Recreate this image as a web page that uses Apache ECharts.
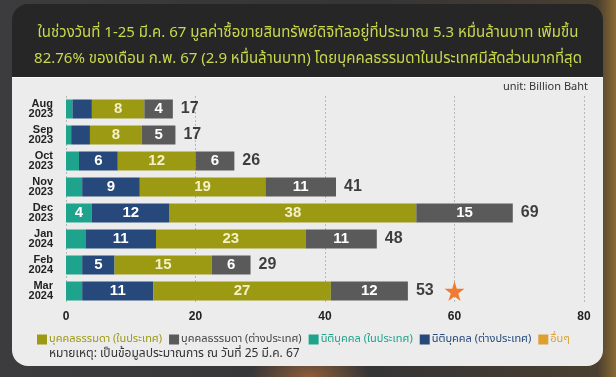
<!DOCTYPE html>
<html>
<head>
<meta charset="UTF-8">
<title>digital asset trading</title>
<script src="https://cdn.jsdelivr.net/npm/echarts@6/dist/echarts.min.js"></script>
<style>
  body { margin: 0; }
  .wrap {
    width: 616px; height: 377px; position: relative; overflow: hidden;
    background:
      radial-gradient(ellipse 60px 30px at 310px 377px, rgba(200,120,60,0.6), rgba(0,0,0,0)),
      linear-gradient(90deg, #3c3c3e 0%, #353436 60%, #4a3f30 97%, #8a6a34 100%);
  }
  .top {
    position: absolute; left: 12px; top: 4px; width: 591px; height: 90px;
    background: #262626; border-radius: 16px 16px 0 0;
  }
  .panel {
    position: absolute; left: 12px; top: 77px; width: 591px; height: 288px;
    background: #ececec; border-radius: 0 0 16px 16px; border-top: 1px solid #fafafa;
  }
  #main { position: absolute; left: 0; top: 0; width: 616px; height: 377px; }
</style>
</head>
<body>
<div class="wrap">
  <div class="top"></div>
  <div class="panel"></div>
  <div id="main"></div>
</div>
<script type="text/javascript">
var months = ['Aug\n2023', 'Sep\n2023', 'Oct\n2023', 'Nov\n2023', 'Dec\n2023', 'Jan\n2024', 'Feb\n2024', 'Mar\n2024'];
// นิติบุคคล (ในประเทศ)
var jurDomestic = [1.0, 0.8, 2.0, 2.5, 4.0, 3.0, 2.5, 2.5];
// นิติบุคคล (ต่างประเทศ)
var jurForeign = [3.0, 2.9, 6.0, 8.9, 12.0, 10.9, 5.0, 11.0];
// บุคคลธรรมดา (ในประเทศ)
var indDomestic = [8.1, 8.0, 12.0, 19.4, 38.1, 23.1, 15.0, 27.4];
// บุคคลธรรมดา (ต่างประเทศ)
var indForeign = [4.4, 5.2, 6.0, 10.9, 14.9, 11.0, 6.0, 11.9];
// อื่นๆ
var others = [0, 0, 0, 0, 0, 0, 0, 0];
var totals = [17, 17, 26, 41, 69, 48, 29, 53];
var starPoint = [60, 'Mar\n2024'];

var names = ['บุคคลธรรมดา (ในประเทศ)', 'บุคคลธรรมดา (ต่างประเทศ)', 'นิติบุคคล (ในประเทศ)', 'นิติบุคคล (ต่างประเทศ)', 'อื่นๆ'];
var colors = ['#9c9a12', '#5a5a5a', '#1ea48c', '#26487a', '#dca030'];
var textColors = ['#9c9a12', '#444', '#1ea48c', '#26487a', '#dca030'];
var thai = '"Noto Sans Thai", "Noto Sans", "DejaVu Sans", sans-serif';
var arial = 'Liberation Sans, Arial, sans-serif';

var ends = months.map(function (m, i) {
  return [jurDomestic[i] + jurForeign[i] + indDomestic[i] + indForeign[i] + others[i], m];
});

function seg(name, data, color, labelColor) {
  return {
    name: name, type: 'bar', stack: 'all', data: data, barWidth: 19,
    itemStyle: { color: color },
    label: {
      show: true, color: labelColor || '#fff', fontSize: 15, fontWeight: 'bold', fontFamily: arial,
      formatter: function (p) { return p.value >= 3.5 ? Math.round(p.value) : ''; }
    }
  };
}

var myChart = echarts.init(document.getElementById('main'));
var option = {
  animation: false,
  title: {
    text: 'ในช่วงวันที่ 1-25 มี.ค. 67 มูลค่าซื้อขายสินทรัพย์ดิจิทัลอยู่ที่ประมาณ 5.3 หมื่นล้านบาท เพิ่มขึ้น\n82.76% ของเดือน ก.พ. 67 (2.9 หมื่นล้านบาท) โดยบุคคลธรรมดาในประเทศมีสัดส่วนมากที่สุด',
    left: 'center', top: 16,
    textStyle: { color: '#c9d94e', fontSize: 15, fontWeight: 'normal', lineHeight: 26, fontFamily: thai, align: 'center' }
  },
  graphic: [
    { type: 'text', right: 28, top: 81, style: { text: 'unit: Billion Baht', fill: '#333', fontSize: 11, fontFamily: 'Noto Sans, sans-serif' } },
    { type: 'text', left: 49, top: 349, style: { text: 'หมายเหตุ: เป็นข้อมูลประมาณการ ณ วันที่ 25 มี.ค. 67', fill: '#333', fontSize: 12, fontFamily: thai } }
  ],
  legend: {
    left: 32, top: 329, itemWidth: 10, itemHeight: 10, itemGap: 7,
    icon: 'rect',
    textStyle: { fontSize: 11, fontFamily: thai, padding: [0, 0, 0, -3] },
    data: names.map(function (n, i) { return { name: n, textStyle: { color: textColors[i] } }; })
  },
  grid: { left: 66, right: 32, top: 96, bottom: 73 },
  xAxis: {
    type: 'value', min: 0, max: 80, interval: 20,
    axisLine: { show: false }, axisTick: { show: false },
    splitLine: { lineStyle: { color: '#b8b8b8', type: [2, 2] } },
    axisLabel: { color: '#222', fontSize: 12, fontWeight: 'bold', margin: 7, fontFamily: arial }
  },
  yAxis: {
    type: 'category', inverse: true, data: months,
    axisLine: { show: false }, axisTick: { show: false },
    axisLabel: { color: '#222', fontSize: 11, fontWeight: 'bold', lineHeight: 10, margin: 13, fontFamily: arial }
  },
  series: [
    seg(names[2], jurDomestic, colors[2]),
    seg(names[3], jurForeign, colors[3]),
    seg(names[0], indDomestic, colors[0], '#f4f0c8'),
    seg(names[1], indForeign, colors[1]),
    seg(names[4], others, colors[4]),
    {
      type: 'scatter', data: ends, symbolSize: 0, silent: true,
      label: {
        show: true, position: 'right', distance: 8, color: '#111', fontSize: 16, fontWeight: 'bold', fontFamily: arial,
        formatter: function (p) { return totals[p.dataIndex]; }
      }
    },
    {
      type: 'scatter', data: [starPoint], symbolSize: 20, silent: true,
      symbol: 'path://M50,0 L61,35 L98,35 L68,57 L79,91 L50,70 L21,91 L32,57 L2,35 L39,35 Z',
      itemStyle: { color: '#f07a30', opacity: 1 }
    }
  ]
};
myChart.setOption(option);
</script>
</body>
</html>
